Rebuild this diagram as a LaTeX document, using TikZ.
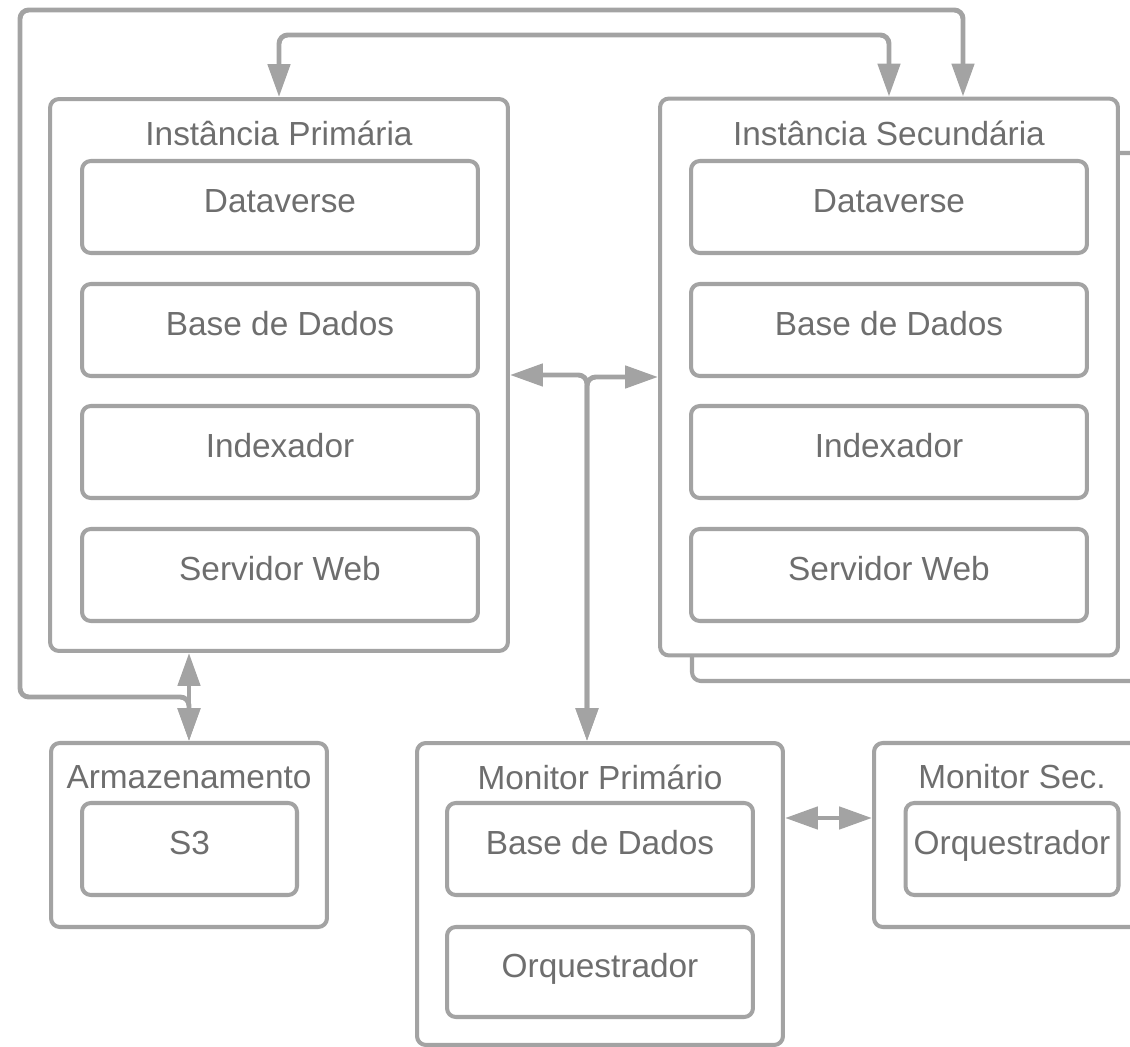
\documentclass[tikz,border=0pt]{standalone}
\usepackage{fontspec}
\setmainfont{Liberation Sans}
\usepackage{tikz}
\usetikzlibrary{arrows.meta}
\definecolor{linegray}{HTML}{A3A3A3}
\definecolor{textgray}{HTML}{6E6E6E}

\begin{document}
\begin{tikzpicture}[x=0.02cm, y=-0.02cm,
  box/.style={draw=linegray, line width=2.3pt, rounded corners=5pt, fill=white, inner sep=0pt},
  inbox/.style={box, text=textgray, font=\fontsize{19}{22}\selectfont, text height=0.75em, text depth=0.14em},
  title/.style={text=textgray, font=\fontsize{19}{22}\selectfont, inner sep=0pt},
  arr/.style={draw=linegray, line width=2.8pt, >={Triangle[length=0.66cm, width=0.44cm]}}]
    \clip (0,0) rectangle (1130,1047);
    % stacked copy behind the secondary instance
    \draw[box] (692,153) rectangle (1170,681);
    \node[box, minimum width=9.16cm, minimum height=11.04cm] (prim) at (279,375) {};
    \node[box, minimum width=9.16cm, minimum height=11.14cm] (sec) at (889,377) {};
    \node[title] (primt) at (279,133) {Instância Primária};
    \node[title] (sect) at (889,133) {Instância Secundária};
    \node[inbox, minimum width=7.92cm, minimum height=1.84cm] (pdv) at (280,207) {Dataverse};
    \node[inbox, minimum width=7.92cm, minimum height=1.84cm] (pbd) at (280,330) {Base de Dados};
    \node[inbox, minimum width=7.92cm, minimum height=1.84cm] (pidx) at (280,452) {Indexador};
    \node[inbox, minimum width=7.92cm, minimum height=1.84cm] (pweb) at (280,575) {Servidor Web};
    \node[inbox, minimum width=7.92cm, minimum height=1.84cm] (sdv) at (889,207) {Dataverse};
    \node[inbox, minimum width=7.92cm, minimum height=1.84cm] (sbd) at (889,330) {Base de Dados};
    \node[inbox, minimum width=7.92cm, minimum height=1.84cm] (sidx) at (889,452) {Indexador};
    \node[inbox, minimum width=7.92cm, minimum height=1.84cm] (sweb) at (889,575) {Servidor Web};

    \node[box, minimum width=5.52cm, minimum height=3.68cm] (arm) at (189,835) {};
    \node[title] (armt) at (189,777) {Armazenamento};
    \node[inbox, minimum width=4.3cm, minimum height=1.84cm] (s3) at (189.5,849) {S3};

    \node[box, minimum width=7.32cm, minimum height=6.04cm] (mon) at (600,894) {};
    \node[title] (mont) at (600,777) {Monitor Primário};
    \node[inbox, minimum width=6.12cm, minimum height=1.84cm] (mondb) at (600,849) {Base de Dados};
    \node[inbox, minimum width=6.12cm, minimum height=1.8cm] (monorq) at (600,972) {Orquestrador};

    \node[box, minimum width=5.52cm, minimum height=3.68cm] (msec) at (1012,835) {};
    \node[title] (msect) at (1012,777) {Monitor Sec.};
    \node[inbox, minimum width=4.26cm, minimum height=1.84cm] (msecorq) at (1012,849) {Orquestrador};

    \coordinate (outerL) at (20,697);
    \coordinate (outerR) at (963,10);
    \coordinate (innerT) at (0,35);
    \coordinate (jn) at (587,376);
    \coordinate (mlink) at (0,818);

    \draw[arr, <->] (arm.north |- prim.south) -- (arm.north);
    \draw[arr, <->, rounded corners=5pt] (arm.north) |- (outerL) |- (outerR) -- (outerR |- sec.north);
    \draw[arr, <->, rounded corners=5pt] (prim.north) |- (innerT -| sec.north) -- (sec.north);
    \draw[arr, <->, rounded corners=5pt] (prim.east) -| (jn |- mon.north);
    \draw[arr, <->, rounded corners=5pt] (sec.west) -| (jn |- mon.north);
    \draw[arr, <->] (mlink -| mon.east) -- (mlink -| msec.west);
\end{tikzpicture}
\end{document}
